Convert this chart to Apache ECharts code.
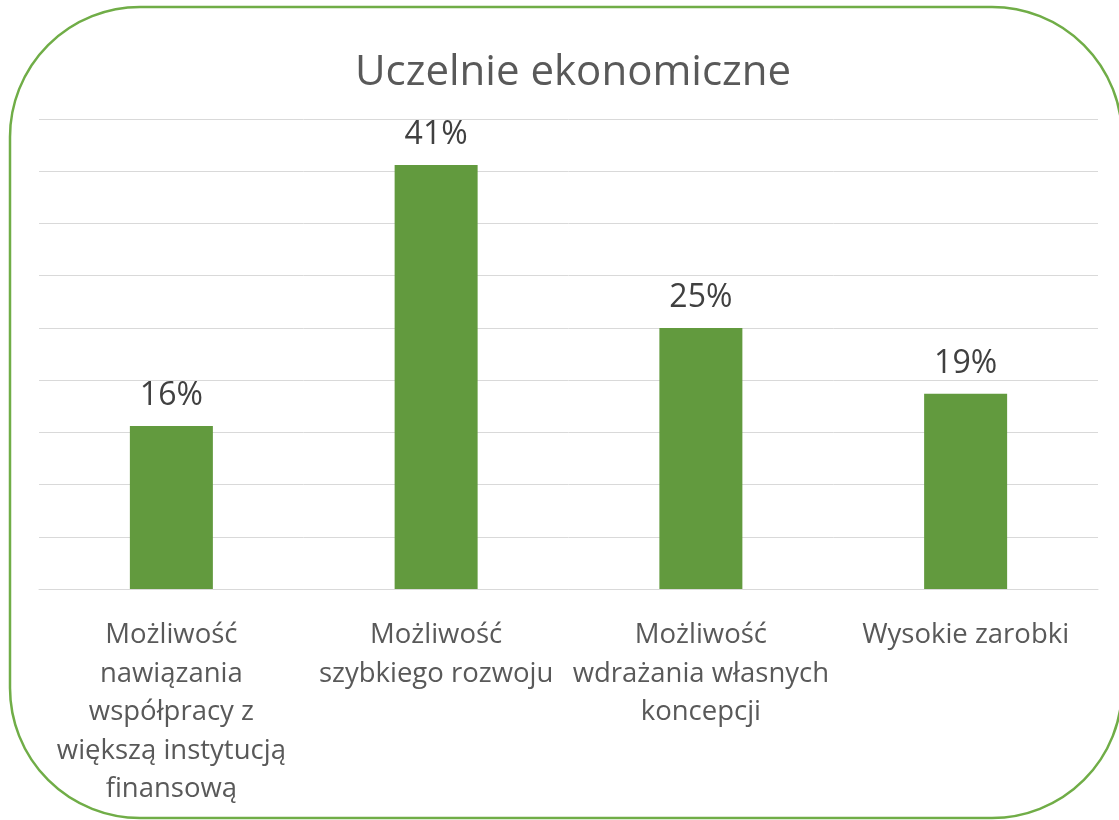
<!DOCTYPE html>
<html>
<head>
<meta charset="utf-8">
<script src="https://cdn.jsdelivr.net/npm/echarts@6/dist/echarts.min.js"></script>
<style>
	html, body { margin: 0; padding: 0; background: #fff; }
	#root { width: 1119px; height: 820px; }
</style>
</head>
<body>
<div id="root"></div>
<script>
var title = 'Uczelnie ekonomiczne';
var categories = [
	'Możliwość\nnawiązania\nwspółpracy z\nwiększą instytucją\nfinansową',
	'Możliwość\nszybkiego rozwoju',
	'Możliwość\nwdrażania własnych\nkoncepcji',
	'Wysokie zarobki'
];
var values = [15.6, 40.6, 25.0, 18.7];
var axisMin = 0;
var axisMax = 45;
var axisStep = 5;

var chart = echarts.init(document.getElementById('root'));
var font = '"Open Sans", sans-serif';

chart.setOption({
	animation: false,
	title: {
		text: title,
		left: 350,
		top: 47,
		textStyle: { fontFamily: font, fontSize: 42, fontWeight: 'normal', color: '#595959' }
	},
	graphic: [{
		type: 'rect',
		shape: { x: 10, y: 7, width: 1112, height: 811, r: 130 },
		style: { fill: 'none', stroke: '#70AD47', lineWidth: 2.5 },
		z: 100
	}],
	grid: { left: 39, right: 21, top: 119, bottom: 231 },
	xAxis: {
		type: 'category',
		data: categories,
		axisLine: { lineStyle: { color: '#D9D9D9', width: 1 } },
		axisTick: { show: false },
		axisLabel: {
			interval: 0,
			margin: 27,
			fontFamily: font,
			fontSize: 27.5,
			lineHeight: 38.5,
			color: '#595959',
			align: 'center'
		}
	},
	yAxis: {
		type: 'value',
		min: axisMin,
		max: axisMax,
		interval: axisStep,
		axisLabel: { show: false },
		axisLine: { show: false },
		axisTick: { show: false },
		splitLine: { lineStyle: { color: '#D9D9D9', width: 1 } }
	},
	series: [{
		type: 'bar',
		data: values,
		barWidth: 83,
		itemStyle: { color: '#629A3E' },
		label: {
			show: true,
			position: 'top',
			distance: 14,
			fontFamily: font,
			fontSize: 32,
			color: '#404040',
			formatter: function (p) { return Math.round(p.value) + '%'; }
		}
	}]
});
</script>
</body>
</html>
